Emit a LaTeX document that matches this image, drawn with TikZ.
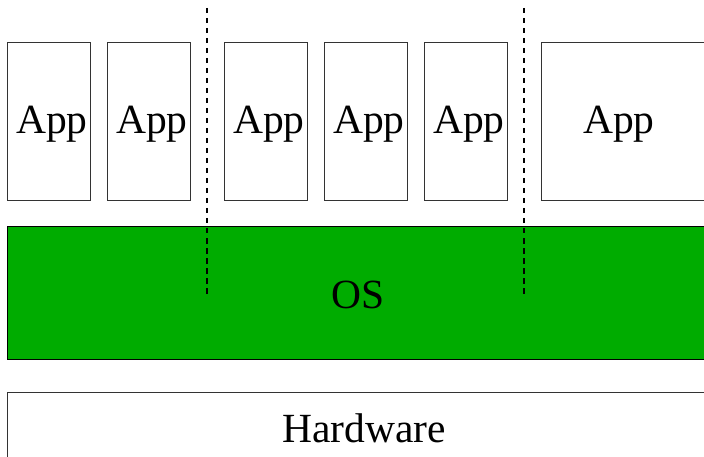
\documentclass[tikz,border=0pt]{standalone}
\usepackage{fontspec}
\setmainfont{Liberation Serif}
\definecolor{osgreen}{RGB}{0,172,0}
\begin{document}
\begin{tikzpicture}[x=1pt,y=-1pt,
  appbox/.style={draw=black!80,line width=0.9pt},
  lbl/.style={font=\fontsize{41.5}{41.5}\selectfont,anchor=base,inner sep=0pt},
  sep/.style={draw=black,line width=1.4pt,dash pattern=on 5.5pt off 4.5pt}]
\useasboundingbox (0,0) rectangle (704,457);
\clip (0,0) rectangle (704,457);
% app boxes
\draw[appbox] (7,42) rectangle (90,200);
\draw[appbox] (107,42) rectangle (190,200);
\draw[appbox] (224,42) rectangle (307,200);
\draw[appbox] (324,42) rectangle (407,200);
\draw[appbox] (424,42) rectangle (507,200);
\draw[appbox] (541,42) rectangle (720,200);
\node[lbl] (a1) at (52,134) {App};
\node[lbl] (a2) at (152,134) {App};
\node[lbl] (a3) at (269,134) {App};
\node[lbl] (a4) at (369,134) {App};
\node[lbl] (a5) at (469,134) {App};
\node[lbl] (a6) at (619,134) {App};
% OS
\draw[fill=osgreen,draw=black,line width=0.9pt] (7,226) rectangle (720,359);
\node[lbl] (os) at (358,308) {OS};
% hardware
\draw[appbox] (7,392) rectangle (720,480);
\node[lbl] (hw) at (364,442) {Hardware};
% separators
\coordinate (s1t) at (207,8);
\coordinate (s1b) at (207,294);
\coordinate (s2t) at (524,8);
\coordinate (s2b) at (524,294);
\draw[sep] (s1t) -- (s1b);
\draw[sep] (s2t) -- (s2b);
\end{tikzpicture}
\end{document}
